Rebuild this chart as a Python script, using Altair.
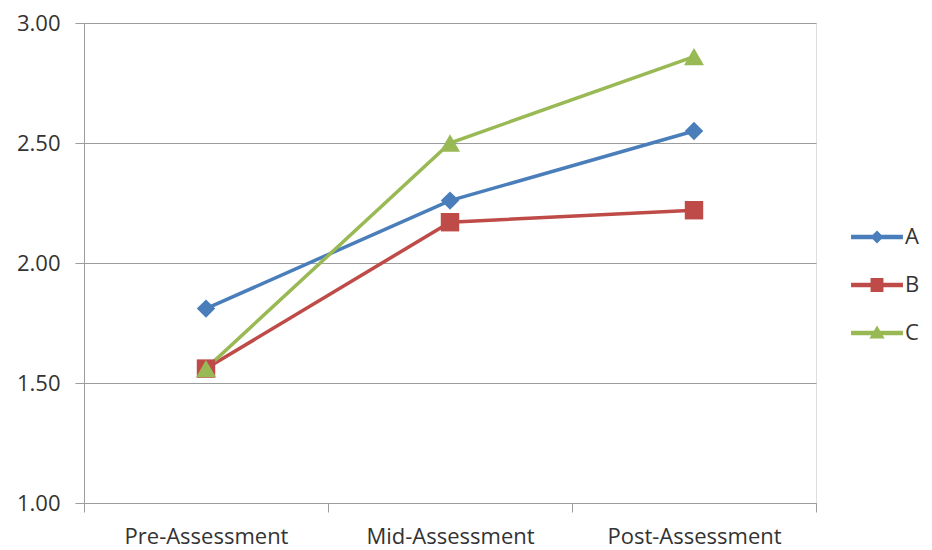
import altair as alt
import pandas as pd

stages = ["Pre-Assessment", "Mid-Assessment", "Post-Assessment"]
series = ["A", "B", "C"]
values_a = [1.81, 2.26, 2.55]
values_b = [1.56, 2.17, 2.22]
values_c = [1.56, 2.50, 2.86]
y_ticks = [1.0, 1.5, 2.0, 2.5, 3.0]

colors = ["#4A7EBB", "#BE4B48", "#98B954"]
marker_shapes = ["diamond", "square", "triangle-up"]
marker_sizes = [340, 340, 400]
legend_paths = [
    "M-4.2,-0.25H4.2V0.25H-4.2Z M0,-0.9L0.9,0L0,0.9L-0.9,0Z",
    "M-4.2,-0.25H4.2V0.25H-4.2Z M-0.95,-1.05H0.95V1.05H-0.95Z",
    "M-4.2,-0.25H4.2V0.25H-4.2Z M0,-1L1.05,0.8H-1.05Z",
]

rows = []
for s, vals in zip(series, [values_a, values_b, values_c]):
    for st, v in zip(stages, vals):
        rows.append({"stage": st, "series": s, "value": v})
df = pd.DataFrame(rows)

FONT = "Open Sans"
TEXT = "#333333"
GRID = "#9c9c9c"

color_scale = alt.Scale(domain=series, range=colors)
x_enc = alt.X(
    "stage:N",
    sort=stages,
    scale=alt.Scale(type="band", domain=stages, paddingInner=0, paddingOuter=0),
    axis=alt.Axis(
        title=None,
        labelAngle=0,
        tickBand="extent",
        domainColor=GRID,
        tickColor=GRID,
        tickSize=9,
        labelPadding=14,
        labelFontSize=22,
        labelFont=FONT,
        labelColor=TEXT,
        grid=False,
    ),
)
y_enc = alt.Y(
    "value:Q",
    scale=alt.Scale(domain=[1, 3], nice=False, zero=False),
    axis=alt.Axis(
        title=None,
        values=y_ticks,
        format=".2f",
        domainColor=GRID,
        tickColor=GRID,
        tickSize=9,
        labelPadding=15,
        labelFontSize=22,
        labelFont=FONT,
        labelColor=TEXT,
        gridColor=GRID,
        gridWidth=1,
    ),
)

base = alt.Chart(df)

legend_props = dict(
    title=None,
    orient="none",
    legendX=782,
    legendY=203,
    symbolSize=144,
    labelOffset=17,
    labelFontSize=22,
    labelFont=FONT,
    labelColor=TEXT,
    rowPadding=26,
    padding=0,
)

legend_layer = (
    base.transform_filter(alt.datum.value < 0)
    .mark_point(filled=True, opacity=1, strokeWidth=0)
    .encode(
        x=x_enc,
        y=y_enc,
        color=alt.Color("series:N", scale=color_scale, legend=alt.Legend(**legend_props)),
        shape=alt.Shape(
            "series:N",
            scale=alt.Scale(domain=series, range=legend_paths),
            legend=alt.Legend(**legend_props),
        ),
    )
)

lines = base.mark_line(strokeWidth=3.5).encode(
    x=x_enc,
    y=y_enc,
    color=alt.Color("series:N", scale=color_scale, legend=None),
    detail="series:N",
)

point_layers = []
for s, shp, sz in zip(series, marker_shapes, marker_sizes):
    point_layers.append(
        base.transform_filter(alt.datum.series == s)
        .mark_point(filled=True, shape=shp, size=sz, opacity=1, strokeWidth=0)
        .encode(
            x=x_enc,
            y=y_enc,
            color=alt.Color("series:N", scale=color_scale, legend=None),
        )
    )

chart = (
    alt.layer(legend_layer, lines, *point_layers)
    .properties(
        width=732,
        height=480,
        autosize=alt.AutoSizeParams(type="none"),
        padding={"left": 76, "top": 15, "right": 108, "bottom": 45},
    )
    .configure_view(stroke=None)
    .configure(background="white")
)

chart.save("out.html", embed_options={"renderer": "svg", "actions": False})
